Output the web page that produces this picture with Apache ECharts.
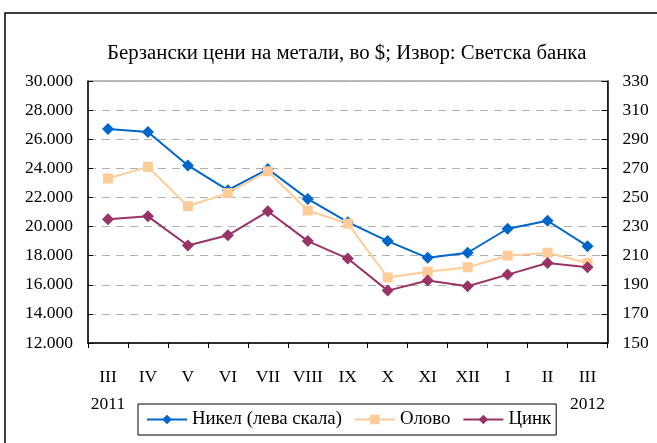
<!DOCTYPE html>
<html>
<head>
<meta charset="utf-8">
<script src="https://cdn.jsdelivr.net/npm/echarts@6/dist/echarts.min.js"></script>
<style>
html,body{margin:0;padding:0;background:#fff;overflow:hidden;}
#c{width:657px;height:443px;}
</style>
</head>
<body>
<div id="c"></div>
<script>
const titleText = 'Берзански цени на метали, во $; Извор: Светска банка';
const categories = ['III','IV','V','VI','VII','VIII','IX','X','XI','XII','I','II','III'];
const yearLabels = {0:'2011', 12:'2012'};
const nickel = [26700,26500,24200,22500,23950,21900,20300,19000,17850,18200,19850,20400,18650];
const lead   = [263,271,244,253,268,241,232,195,199,202,210,212,205];
const zinc   = [235,237,217,224,240.5,220,208,186,193,189,197,205,202];
const seriesNames = ['Никел (лева скала)','Олово','Цинк'];
const leftTicks = {min:12000,max:30000,interval:2000};
const rightTicks = {min:150,max:330,interval:20};

const FONT = 'Liberation Serif';
const chart = echarts.init(document.getElementById('c'), null, {renderer:'canvas'});
function fmtThousands(v){
  return String(v).replace(/\B(?=(\d{3})+(?!\d))/g,'.');
}
chart.setOption({
  animation:false,
  backgroundColor:'#fff',
  textStyle:{fontFamily:FONT,color:'#000'},
  graphic:[{type:'rect',shape:{x:5,y:13,width:720,height:520},style:{fill:'none',stroke:'#000',lineWidth:1.5},silent:true}],
  title:{text:titleText,left:102,top:38,textStyle:{fontFamily:FONT,fontWeight:'normal',fontSize:20.8,color:'#000'}},
  legend:{
    bottom:8,left:138,
    padding:[6,5,6,8],
    borderColor:'#000',borderWidth:1,
    itemWidth:40,itemHeight:12,itemGap:12,
    textStyle:{fontFamily:FONT,fontSize:18.8,color:'#000'},
    data:seriesNames
  },
  grid:{left:88,right:49.5,top:81,bottom:100,show:true,borderColor:'#777',borderWidth:1},
  xAxis:{
    type:'category',data:categories,boundaryGap:true,
    axisLine:{lineStyle:{color:'#000',width:1.5}},
    axisTick:{show:true,inside:false,length:5,lineStyle:{color:'#000'}},
    axisLabel:{interval:0,margin:21,fontFamily:FONT,fontSize:17.5,color:'#000',lineHeight:27,
      formatter:(v,i)=> yearLabels[i] ? v+'\n'+yearLabels[i] : v}
  },
  yAxis:[{
    type:'value',position:'left',min:leftTicks.min,max:leftTicks.max,interval:leftTicks.interval,
    axisLine:{show:true,lineStyle:{color:'#000',width:1.5}},
    axisTick:{show:true,inside:true,length:5,lineStyle:{color:'#000'}},
    axisLabel:{margin:15,fontFamily:FONT,fontSize:17.5,color:'#000',formatter:fmtThousands},
    splitLine:{show:true,lineStyle:{color:'#b0b0b0',type:[8,6],width:1}}
  },{
    type:'value',position:'right',min:rightTicks.min,max:rightTicks.max,interval:rightTicks.interval,
    axisLine:{show:true,lineStyle:{color:'#000',width:1.5}},
    axisTick:{show:true,inside:true,length:6,lineStyle:{color:'#000'}},
    axisLabel:{margin:15,fontFamily:FONT,fontSize:17.5,color:'#000'},
    splitLine:{show:false}
  }],
  series:[
    {name:seriesNames[0],type:'line',yAxisIndex:0,data:nickel,symbol:'diamond',symbolSize:12,
      itemStyle:{color:'#0066CC'},lineStyle:{color:'#0066CC',width:2}},
    {name:seriesNames[1],type:'line',yAxisIndex:1,data:lead,symbol:'rect',symbolSize:10,
      itemStyle:{color:'#FFCC99'},lineStyle:{color:'#FFCC99',width:2}},
    {name:seriesNames[2],type:'line',yAxisIndex:1,data:zinc,symbol:'diamond',symbolSize:12,
      itemStyle:{color:'#993366'},lineStyle:{color:'#993366',width:2}}
  ]
});
</script>
</body>
</html>
